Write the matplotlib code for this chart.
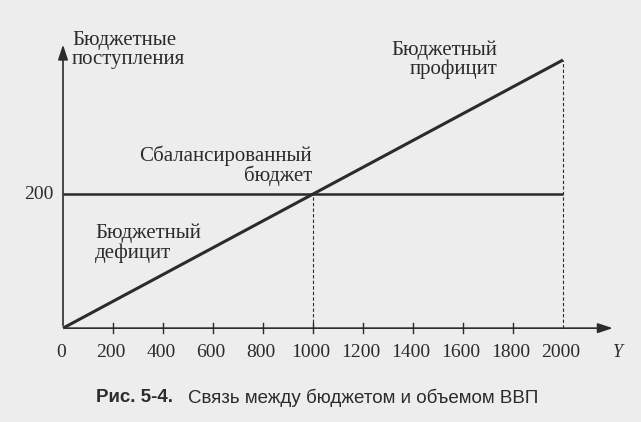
import matplotlib.pyplot as plt

# data
gdp = [0, 2000]
revenue = [0, 400]
balanced = 200
x_ticks = [0, 200, 400, 600, 800, 1000, 1200, 1400, 1600, 1800, 2000]
y_ticks = [200]

ink = "#2b2b2b"
serif = "Liberation Serif"

fig = plt.figure(figsize=(6.41, 4.22), dpi=100, facecolor="#ededed")
ax = fig.add_axes([0, 0, 1, 1])
ax.set_facecolor("#ededed")
# pixel mapping: x px = 63 + 0.25*x, y px (from top) = 328 - 0.67*y
ax.set_xlim(-252, 2312)
ax.set_ylim(-140, 489.5)
ax.axis("off")

# axes with arrows
ax.annotate("", xy=(2210, 0), xytext=(0, 0),
            arrowprops=dict(arrowstyle="-|>,head_length=0.9,head_width=0.3", color=ink, lw=1.2))
ax.annotate("", xy=(0, 427), xytext=(0, 0),
            arrowprops=dict(arrowstyle="-|>,head_length=0.9,head_width=0.3", color=ink, lw=1.2))

# tick marks on x axis
for t in x_ticks[1:-1]:
    ax.plot([t, t], [-7, 7], color=ink, lw=1.0)
for t in x_ticks:
    ax.text(t - 8, -36, str(t), ha="center", va="center", fontsize=14, family=serif, color=ink)
ax.text(2220, -36, "Y", ha="center", va="center", fontsize=13, family=serif, style="italic", color=ink)
for t in y_ticks:
    ax.text(-40, t, str(t), ha="right", va="center", fontsize=14, family=serif, color=ink)

# balanced budget and revenue lines
ax.plot([0, gdp[-1]], [balanced, balanced], color=ink, lw=1.8, solid_capstyle="butt")
ax.plot(gdp, revenue, color=ink, lw=2.2, solid_capstyle="butt")

# dashed drop lines
x_bal = balanced / (revenue[-1] / gdp[-1])
ax.plot([x_bal, x_bal], [0, balanced], color=ink, lw=0.8, ls=(0, (3, 2)))
ax.plot([gdp[-1], gdp[-1]], [0, revenue[-1]], color=ink, lw=0.8, ls=(0, (3, 2)))

# labels
ax.text(36, 415, "Бюджетные\nпоступления", ha="left", va="center", fontsize=15,
        family=serif, color=ink, linespacing=0.95)
ax.text(996, 242, "Сбалансированный\nбюджет", ha="right", va="center", fontsize=15,
        family=serif, color=ink, linespacing=1.0, multialignment="right")
ax.text(128, 127, "Бюджетный\nдефицит", ha="left", va="center", fontsize=15,
        family=serif, color=ink, linespacing=1.0)
ax.text(1736, 400, "Бюджетный\nпрофицит", ha="right", va="center", fontsize=15,
        family=serif, color=ink, linespacing=1.0, multialignment="right")

# caption
fig.text(0.150, 0.058, "Рис. 5-4.", ha="left", va="center", fontsize=13.5,
         family="Liberation Sans", weight="bold", color=ink)
fig.text(0.293, 0.058, "Связь между бюджетом и объемом ВВП", ha="left", va="center",
         fontsize=13.5, family="Liberation Sans", color=ink)

fig.savefig("out.png", dpi=100, facecolor=fig.get_facecolor())
